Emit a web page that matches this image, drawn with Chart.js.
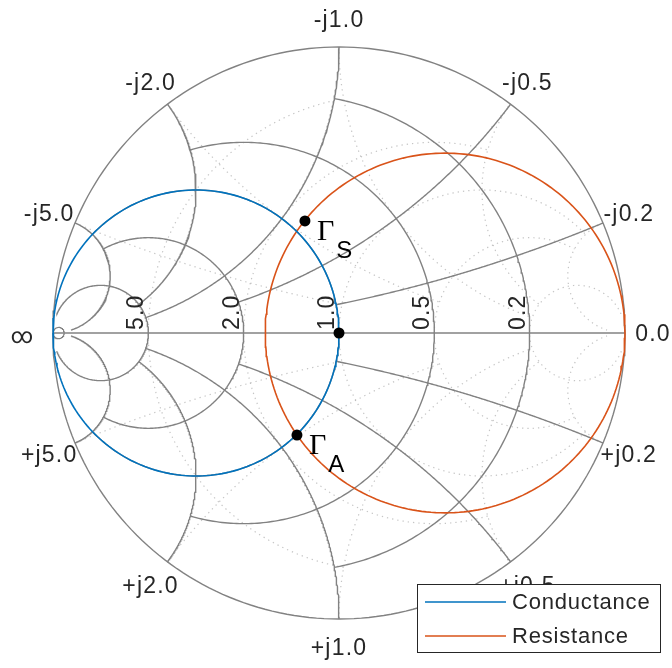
<!DOCTYPE html>
<html>
<head>
<meta charset="utf-8">
<title>Smith chart</title>
<script src="https://cdn.jsdelivr.net/npm/chart.js@4.4.1/dist/chart.umd.min.js"></script>
<style>
  html, body { margin: 0; padding: 0; background: #fff; }
  #wrap { width: 672px; height: 668px; }
</style>
</head>
<body>
<div id="wrap"><canvas id="smith" width="672" height="668"></canvas></div>
<script>
// Admittance (Y) Smith chart, impedance (Z) grid as dotted sub grid

// grid values and the value at which each circle / arc is cut off
const gridValues = [0.2, 0.5, 1, 2, 5];
const gridLimits = [1, 2, 5, 5, 30];
const realTickLabels = ['0.2', '0.5', '1.0', '2.0', '5.0'];
const imagTickLabels = ['0.2', '0.5', '1.0', '2.0', '5.0'];

// highlighted circles
const seriesNames = ['Conductance', 'Resistance'];
const seriesColors = ['#0072BD', '#D95319'];
const conductanceValue = 1.0;  // g circle (Y grid)
const resistanceValue = 0.59;  // r circle (Z grid)

// marked reflection coefficients
const pointNames = ['S', 'A', ''];
const pointRe = [-0.119, -0.147, 0];
const pointIm = [0.392, -0.357, 0];

const GRID = '#828282';
const SUBGRID = 'rgba(150,150,150,0.55)';
const N = 240;

// ============ GEOMETRY ============

// g = const circle, drawn for |b| <= lim
function yCircle(g, lim) {
  const c = -g / (1 + g), r = 1 / (1 + g);
  const tMax = lim === Infinity ? Math.PI : 2 * Math.atan(lim / (1 + g));
  const pts = [];
  for (let i = 0; i <= N; i++) {
    const t = -tMax + 2 * tMax * i / N;
    pts.push({ x: c + r * Math.cos(t), y: r * Math.sin(t) });
  }
  return pts;
}

// b = const arc, drawn from g = 0 to g = lim
function yArc(b, lim) {
  const cy = -1 / b, r = 1 / Math.abs(b);
  const p0 = Math.atan(b), p1 = Math.atan(b / (1 + lim));
  const pts = [];
  for (let i = 0; i <= N; i++) {
    const phi = p0 + (p1 - p0) * i / N;
    const a = Math.PI / 2 - 2 * phi + (b < 0 ? Math.PI : 0);
    pts.push({ x: -1 + r * Math.cos(a), y: cy + r * Math.sin(a) });
  }
  return pts;
}

const mirror = pts => pts.map(p => ({ x: -p.x, y: p.y }));

function lineSet(data, color, width, dash, order) {
  return {
    data, showLine: true, borderColor: color, borderWidth: width,
    borderDash: dash || [], pointRadius: 0, fill: false, tension: 0,
    clip: false, order
  };
}

// ============ DATASETS ============

const datasets = [];

// marked points
datasets.push({
  data: pointRe.map((x, i) => ({ x, y: pointIm[i] })),
  showLine: false, pointRadius: 5.5, pointBackgroundColor: '#000',
  pointBorderWidth: 0, clip: false, order: 1
});

// conductance / resistance circles
datasets.push(Object.assign(lineSet(yCircle(conductanceValue, Infinity), seriesColors[0], 1.6, null, 2), { label: seriesNames[0] }));
datasets.push(Object.assign(lineSet(mirror(yCircle(resistanceValue, Infinity)), seriesColors[1], 1.6, null, 2), { label: seriesNames[1] }));

// Y grid (solid)
datasets.push(lineSet(yCircle(0, Infinity), GRID, 1.4, null, 4));
datasets.push(lineSet(yCircle(50, Infinity), GRID, 1.1, null, 4));
datasets.push(lineSet([{ x: -1, y: 0 }, { x: 1, y: 0 }], GRID, 1.4, null, 4));
gridValues.forEach((v, i) => {
  datasets.push(lineSet(yCircle(v, gridLimits[i]), GRID, 1.4, null, 4));
  datasets.push(lineSet(yArc(v, gridLimits[i]), GRID, 1.4, null, 4));
  datasets.push(lineSet(yArc(-v, gridLimits[i]), GRID, 1.4, null, 4));
});

// Z grid (dotted)
gridValues.forEach((v, i) => {
  datasets.push(lineSet(mirror(yCircle(v, gridLimits[i])), SUBGRID, 1.2, [1.3, 4], 6));
  datasets.push(lineSet(mirror(yArc(v, gridLimits[i])), SUBGRID, 1.2, [1.3, 4], 6));
  datasets.push(lineSet(mirror(yArc(-v, gridLimits[i])), SUBGRID, 1.2, [1.3, 4], 6));
});

// ============ LABELS + LEGEND ============

const TICK_FONT = '23px "Liberation Sans", Arial, sans-serif';
const LEGEND_FONT = '22px "Liberation Sans", Arial, sans-serif';

const smithDecor = {
  id: 'smithDecor',
  afterDatasetsDraw(chart) {
    const ctx = chart.ctx;
    const xs = chart.scales.x, ys = chart.scales.y;
    const R = xs.getPixelForValue(1) - xs.getPixelForValue(0);
    const k = (R + 28) / R;
    ctx.save();
    ctx.fillStyle = '#262626';
    ctx.font = TICK_FONT;
    ctx.letterSpacing = '1.2px';

    // real axis labels (rotated)
    gridValues.forEach((g, i) => {
      const px = xs.getPixelForValue((1 - g) / (1 + g));
      ctx.save();
      ctx.translate(px - 5, ys.getPixelForValue(0) - 3);
      ctx.rotate(-Math.PI / 2);
      ctx.textAlign = 'left';
      ctx.textBaseline = 'alphabetic';
      ctx.fillText(realTickLabels[i], 0, 0);
      ctx.restore();
    });

    // labels round the rim
    ctx.textAlign = 'center';
    ctx.textBaseline = 'middle';
    const rim = (gx, gy, txt) => ctx.fillText(txt, xs.getPixelForValue(gx * k), ys.getPixelForValue(gy * k) + 2);
    gridValues.forEach((b, i) => {
      const d = 1 + b * b;
      const gx = (1 - b * b) / d, gy = 2 * b / d;
      rim(gx, gy, '-j' + imagTickLabels[i]);
      rim(gx, -gy, '+j' + imagTickLabels[i]);
    });
    rim(1, 0, '0.0');

    // infinity mark at the left end of the real axis
    ctx.letterSpacing = '0px';
    ctx.font = '22px Roboto, "Liberation Sans", sans-serif';
    ctx.fillText('\u221E', xs.getPixelForValue(-1) - 31, ys.getPixelForValue(0) + 4);

    // point names
    pointNames.forEach((nm, i) => {
      if (!nm) return;
      const px = xs.getPixelForValue(pointRe[i]), py = ys.getPixelForValue(pointIm[i]);
      ctx.textAlign = 'left';
      ctx.textBaseline = 'alphabetic';
      ctx.fillStyle = '#000';
      ctx.font = '30px "Liberation Serif", "Times New Roman", serif';
      ctx.fillText('\u0393', px + 12, py + 19);
      const w = ctx.measureText('\u0393').width;
      ctx.font = '24px "Liberation Sans", Arial, sans-serif';
      ctx.fillText(nm, px + 14 + w, py + 37);
    });
    ctx.restore();
  },
  afterDraw(chart) {
    const ctx = chart.ctx;
    const box = { x: 417, y: 584, w: 243, h: 68 };
    ctx.save();
    ctx.fillStyle = '#fff';
    ctx.fillRect(box.x, box.y, box.w, box.h);
    ctx.strokeStyle = '#262626';
    ctx.lineWidth = 1;
    ctx.strokeRect(box.x + 0.5, box.y + 0.5, box.w, box.h);
    ctx.font = LEGEND_FONT;
    ctx.letterSpacing = '0.8px';
    ctx.textAlign = 'left';
    ctx.textBaseline = 'middle';
    seriesNames.forEach((nm, i) => {
      const y = box.y + 18 + i * 34;
      ctx.strokeStyle = seriesColors[i];
      ctx.lineWidth = 1.6;
      ctx.beginPath();
      ctx.moveTo(box.x + 8, y);
      ctx.lineTo(box.x + 89, y);
      ctx.stroke();
      ctx.fillStyle = '#262626';
      ctx.fillText(nm, box.x + 95, y + 1);
    });
    ctx.restore();
  }
};

new Chart(document.getElementById('smith'), {
  type: 'scatter',
  data: { datasets },
  options: {
    responsive: false,
    animation: false,
    layout: { padding: { left: 53, right: 47, top: 47, bottom: 49 } },
    scales: {
      x: { type: 'linear', min: -1, max: 1, display: false },
      y: { type: 'linear', min: -1, max: 1, display: false }
    },
    plugins: { legend: { display: false }, tooltip: { enabled: false } }
  },
  plugins: [smithDecor]
});
</script>
</body>
</html>
